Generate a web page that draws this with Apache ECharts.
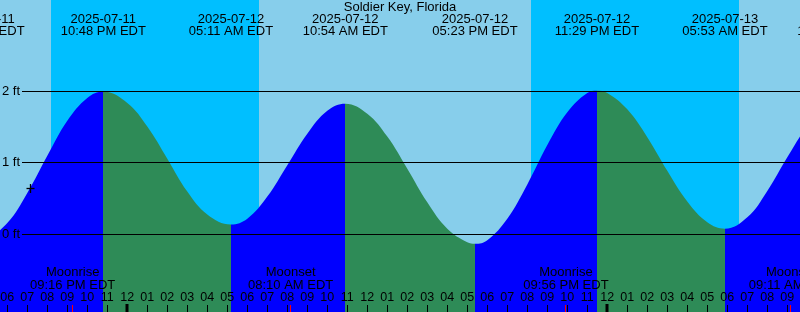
<!DOCTYPE html>
<html>
<head>
<meta charset="utf-8">
<script src="https://cdn.jsdelivr.net/npm/echarts@6/dist/echarts.min.js"></script>
<style>html,body{margin:0;padding:0;background:#87CEEB;}#c{width:800px;height:312px;}</style>
</head>
<body>
<div id="c"></div>
<script>
// ---- data (hours since 2025-07-11 00:00 EDT) ----
const chartTitle = 'Soldier Key, Florida';
const viewStart = 17.635, viewEnd = 57.635;     // visible time window (hours)
const yMin = -1.0839, yMax = 3.2797;            // visible height window (ft)

// tide curve
const tideHours = [16.733, 17, 18, 19, 20, 21, 22, 22.8, 24, 25, 26, 27, 28, 29.183, 30, 31, 32, 33, 34, 34.9, 36, 37, 38, 39, 40, 41, 41.383, 42, 43, 44, 45, 46, 47, 47.483, 48, 49, 50, 51, 52, 53, 53.883, 55, 56, 57, 58, 59, 59.6];
const tideFeet  = [-0.05, -0.04, 0.16, 0.58, 1.10, 1.59, 1.91, 2.00, 1.84, 1.51, 1.06, 0.60, 0.28, 0.14, 0.22, 0.53, 0.97, 1.41, 1.73, 1.83, 1.69, 1.37, 0.92, 0.45, 0.08, -0.11, -0.13, -0.08, 0.22, 0.70, 1.25, 1.71, 1.98, 2.01, 1.98, 1.75, 1.36, 0.89, 0.46, 0.17, 0.08, 0.24, 0.61, 1.08, 1.51, 1.78, 1.83];

// high / low tide events
const eventHours = [16.733, 22.8, 29.183, 34.9, 41.383, 47.483, 53.883, 59.6];
const eventKinds = ['Low', 'High', 'Low', 'High', 'Low', 'High', 'Low', 'High'];
const eventDates = ['2025-07-11', '2025-07-11', '2025-07-12', '2025-07-12', '2025-07-12', '2025-07-12', '2025-07-13', '2025-07-13'];
const eventTimes = ['04:44 PM EDT', '10:48 PM EDT', '05:11 AM EDT', '10:54 AM EDT', '05:23 PM EDT', '11:29 PM EDT', '05:53 AM EDT', '11:36 AM EDT'];

// night (sunset -> sunrise)
const nightStart = [20.183, 44.183];
const nightEnd   = [30.583, 54.583];

// moon events
const moonHours = [21.267, 32.167, 45.933, 57.183];
const moonEvents = ['Moonrise', 'Moonset', 'Moonrise', 'Moonset'];
const moonTimes = ['09:16 PM EDT', '08:10 AM EDT', '09:56 PM EDT', '09:11 AM EDT'];

// hour ticks
const hourTicks  = [18,19,20,21,22,23,24,25,26,27,28,29,30,31,32,33,34,35,36,37,38,39,40,41,42,43,44,45,46,47,48,49,50,51,52,53,54,55,56,57];
const hourLabels = ['06','07','08','09','10','11','12','01','02','03','04','05','06','07','08','09','10','11','12','01','02','03','04','05','06','07','08','09','10','11','12','01','02','03','04','05','06','07','08','09'];

// height grid
const yTicks = [0, 1, 2];
const yTickLabels = ['0 ft', '1 ft', '2 ft'];

// current-time marker
const nowMark = [19.135, 0.64];

// ---- styles ----
const FONT = '"Liberation Sans", Arial, sans-serif';
const BLUE = '#0000FF', GREEN = '#2E8B57', DAY = '#87CEEB', NIGHT = '#00BFFF';

function txt(x, y, s, size, align) {
  return { type: 'text', x: x, y: y, style: { text: s, fill: '#000', fontSize: size, fontFamily: FONT, align: align || 'center', verticalAlign: 'middle' } };
}
const crisp = v => Math.round(v - 0.5) + 0.5;

const tideData = tideHours.map((h, i) => [h, tideFeet[i]]);
const pieces = [];
for (let i = 0; i < eventHours.length - 1; i++) {
  const p = { gte: eventHours[i], color: eventKinds[i + 1] === 'High' ? BLUE : GREEN };
  if (i < eventHours.length - 2) p.lt = eventHours[i + 1]; else p.lte = eventHours[i + 1];
  pieces.push(p);
}

const chart = echarts.init(document.getElementById('c'), null, { renderer: 'canvas', width: 800, height: 312 });
chart.setOption({
  animation: false,
  backgroundColor: DAY,
  grid: { left: 0, right: 0, top: 0, bottom: 0 },
  xAxis: { type: 'value', min: viewStart, max: viewEnd, show: false },
  yAxis: { type: 'value', min: yMin, max: yMax, show: false },
  visualMap: { type: 'piecewise', show: false, dimension: 0, seriesIndex: 1, pieces: pieces },
  title: { text: chartTitle, left: 'center', top: 1, padding: 0, textStyle: { fontSize: 13, fontWeight: 'normal', color: '#000', fontFamily: FONT } },
  series: [
    { // night bands
      type: 'custom', z: 1, silent: true,
      data: nightStart.map((s, i) => [s, nightEnd[i], 0]),
      encode: { x: [0, 1], y: 2 },
      renderItem: function (params, api) {
        const a = api.coord([api.value(0), yMax]);
        const b = api.coord([api.value(1), yMin]);
        const x0 = Math.round(a[0]), x1 = Math.round(b[0]);
        return { type: 'rect', shape: { x: x0, y: a[1], width: x1 - x0, height: b[1] - a[1] }, style: { fill: NIGHT } };
      }
    },
    { // tide
      type: 'line', z: 2, silent: true,
      data: tideData, smooth: 0.4, showSymbol: false,
      lineStyle: { width: 0, opacity: 0 },
      areaStyle: { opacity: 1, origin: 'start' }
    },
    { // grid lines + labels
      type: 'custom', z: 3, silent: true,
      data: yTicks.map(v => [viewStart, v]),
      encode: { x: 0, y: 1 },
      renderItem: function (params, api) {
        const cs = params.coordSys;
        const y = crisp(api.coord([viewStart, api.value(1)])[1]);
        return { type: 'group', children: [
          { type: 'line', shape: { x1: cs.x + 22, y1: y, x2: cs.x + cs.width, y2: y }, style: { stroke: '#000', lineWidth: 1 } },
          txt(cs.x + 2, y, yTickLabels[params.dataIndex], 13, 'left')
        ] };
      }
    },
    { // tide event labels (top)
      type: 'custom', z: 4, silent: true,
      data: eventHours.map(h => [h, 0]),
      encode: { x: 0, y: 1 },
      renderItem: function (params, api) {
        const cs = params.coordSys;
        const x = api.coord([api.value(0), 0])[0];
        const i = params.dataIndex;
        return { type: 'group', children: [
          txt(x, cs.y + 19.5, eventDates[i], 13),
          txt(x, cs.y + 31.3, eventTimes[i], 13)
        ] };
      }
    },
    { // hour ticks + labels
      type: 'custom', z: 4, silent: true,
      data: hourTicks.map(h => [h, 0]),
      encode: { x: 0, y: 1 },
      renderItem: function (params, api) {
        const cs = params.coordSys;
        const h = api.value(0);
        const x = api.coord([h, 0])[0];
        const bottom = cs.y + cs.height;
        const midnight = h % 24 === 0;
        const xc = midnight ? Math.round(x) : crisp(x);
        return { type: 'group', children: [
          { type: 'line', shape: { x1: xc, y1: bottom - (midnight ? 8 : 7), x2: xc, y2: bottom }, style: { stroke: '#000', lineWidth: midnight ? 3 : 1 } },
          txt(x, bottom - 14.3, hourLabels[params.dataIndex], 12.5)
        ] };
      }
    },
    { // moon events
      type: 'custom', z: 4, silent: true,
      data: moonHours.map(h => [h, 0]),
      encode: { x: 0, y: 1 },
      renderItem: function (params, api) {
        const cs = params.coordSys;
        const x = api.coord([api.value(0), 0])[0];
        const bottom = cs.y + cs.height;
        const i = params.dataIndex;
        return { type: 'group', children: [
          { type: 'line', shape: { x1: crisp(x), y1: bottom - 7, x2: crisp(x), y2: bottom }, style: { stroke: '#FF0000', lineWidth: 1 } },
          txt(x, bottom - 39.3, moonEvents[i], 13),
          txt(x, bottom - 26.5, moonTimes[i], 13)
        ] };
      }
    },
    { // now marker
      type: 'custom', z: 4, silent: true,
      data: [nowMark],
      encode: { x: 0, y: 1 },
      renderItem: function (params, api) {
        const p = api.coord([api.value(0), api.value(1)]);
        const x = crisp(p[0]), y = crisp(p[1]);
        return { type: 'group', children: [
          { type: 'line', shape: { x1: x - 4, y1: y, x2: x + 4, y2: y }, style: { stroke: '#000', lineWidth: 1.3 } },
          { type: 'line', shape: { x1: x, y1: y - 4.5, x2: x, y2: y + 4.5 }, style: { stroke: '#000', lineWidth: 1.3 } }
        ] };
      }
    }
  ]
});
</script>
</body>
</html>
